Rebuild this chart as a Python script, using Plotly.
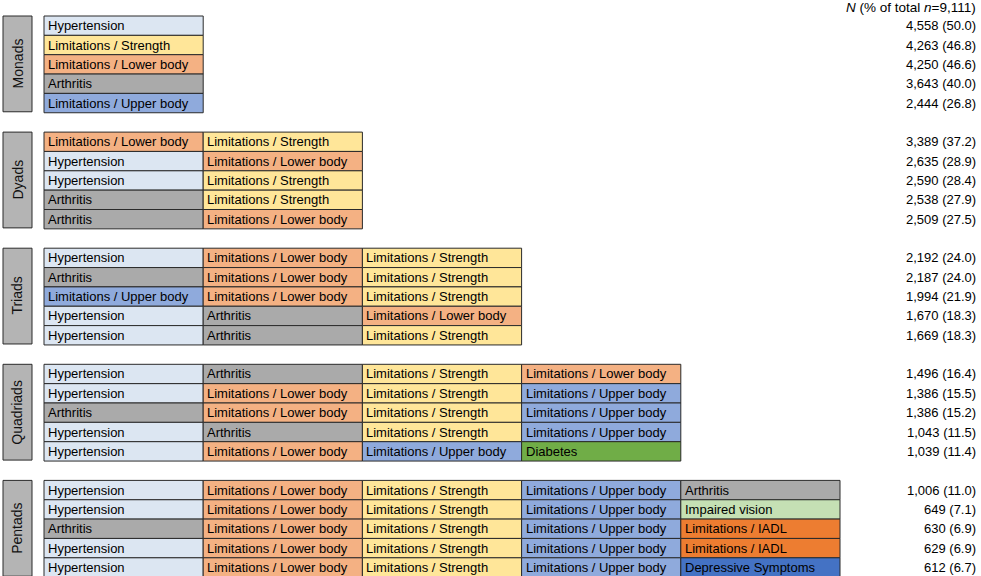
import plotly.graph_objects as go

# ---------------- data ----------------
groups = ["Monads", "Dyads", "Triads", "Quadriads", "Pentads"]

combos = [
    [["Hypertension"],
     ["Limitations / Strength"],
     ["Limitations / Lower body"],
     ["Arthritis"],
     ["Limitations / Upper body"]],
    [["Limitations / Lower body", "Limitations / Strength"],
     ["Hypertension", "Limitations / Lower body"],
     ["Hypertension", "Limitations / Strength"],
     ["Arthritis", "Limitations / Strength"],
     ["Arthritis", "Limitations / Lower body"]],
    [["Hypertension", "Limitations / Lower body", "Limitations / Strength"],
     ["Arthritis", "Limitations / Lower body", "Limitations / Strength"],
     ["Limitations / Upper body", "Limitations / Lower body", "Limitations / Strength"],
     ["Hypertension", "Arthritis", "Limitations / Lower body"],
     ["Hypertension", "Arthritis", "Limitations / Strength"]],
    [["Hypertension", "Arthritis", "Limitations / Strength", "Limitations / Lower body"],
     ["Hypertension", "Limitations / Lower body", "Limitations / Strength", "Limitations / Upper body"],
     ["Arthritis", "Limitations / Lower body", "Limitations / Strength", "Limitations / Upper body"],
     ["Hypertension", "Arthritis", "Limitations / Strength", "Limitations / Upper body"],
     ["Hypertension", "Limitations / Lower body", "Limitations / Upper body", "Diabetes"]],
    [["Hypertension", "Limitations / Lower body", "Limitations / Strength", "Limitations / Upper body", "Arthritis"],
     ["Hypertension", "Limitations / Lower body", "Limitations / Strength", "Limitations / Upper body", "Impaired vision"],
     ["Arthritis", "Limitations / Lower body", "Limitations / Strength", "Limitations / Upper body", "Limitations / IADL"],
     ["Hypertension", "Limitations / Lower body", "Limitations / Strength", "Limitations / Upper body", "Limitations / IADL"],
     ["Hypertension", "Limitations / Lower body", "Limitations / Strength", "Limitations / Upper body", "Depressive Symptoms"]],
]

counts = [
    [4558, 4263, 4250, 3643, 2444],
    [3389, 2635, 2590, 2538, 2509],
    [2192, 2187, 1994, 1670, 1669],
    [1496, 1386, 1386, 1043, 1039],
    [1006, 649, 630, 629, 612],
]

percents = [
    [50.0, 46.8, 46.6, 40.0, 26.8],
    [37.2, 28.9, 28.4, 27.9, 27.5],
    [24.0, 24.0, 21.9, 18.3, 18.3],
    [16.4, 15.5, 15.2, 11.5, 11.4],
    [11.0, 7.1, 6.9, 6.9, 6.7],
]

total_n = "9,111"

# ---------------- style ----------------
colors = {
    "Hypertension": "#dce6f2",
    "Limitations / Strength": "#ffe699",
    "Limitations / Lower body": "#f4b183",
    "Arthritis": "#aaaaaa",
    "Limitations / Upper body": "#8faadc",
    "Diabetes": "#70ad47",
    "Impaired vision": "#c5e0b4",
    "Limitations / IADL": "#ed7d31",
    "Depressive Symptoms": "#4472c4",
}
FONT = "Liberation Sans, Arial, Helvetica, sans-serif"
W, H = 981, 576
COL_PX = 159.2       # pixel width of one column
ROW_PX = 19.35       # pixel height of one row
LEFT_PX = 44.0       # left edge of the first column
TOP_PX = 16.0        # top edge of the first row
ROWS_PER_GROUP = 6   # 5 rows + 1 gap row

x0 = -LEFT_PX / COL_PX
x1 = (W - LEFT_PX) / COL_PX
y_top = -TOP_PX / ROW_PX
y_bot = (H - TOP_PX) / ROW_PX

def px_x(p):
    return (p - LEFT_PX) / COL_PX

def px_y(p):
    return (p - TOP_PX) / ROW_PX

fig = go.Figure()
shapes = []
annotations = []

for g, gname in enumerate(groups):
    base = g * ROWS_PER_GROUP
    nrows = len(combos[g])
    # group label box
    shapes.append(dict(type="rect", xref="x", yref="y",
                       x0=px_x(3), x1=px_x(32), y0=base, y1=base + nrows - 0.05,
                       fillcolor="#b4b4b4", line=dict(color="#2a2a2a", width=1)))
    annotations.append(dict(xref="x", yref="y", x=px_x(17.5), y=base + (nrows - 0.05) / 2,
                            text=gname, showarrow=False, textangle=-90,
                            font=dict(family=FONT, size=14, color="#111111"),
                            xanchor="center", yanchor="middle"))
    for i, combo in enumerate(combos[g]):
        r = base + i
        for c, cond in enumerate(combo):
            shapes.append(dict(type="rect", xref="x", yref="y",
                               x0=c, x1=c + 1, y0=r, y1=r + 1,
                               fillcolor=colors[cond],
                               line=dict(color="#2a2a2a", width=1)))
            annotations.append(dict(xref="x", yref="y", x=c + 2 / COL_PX, y=r + 0.5,
                                    text=cond, showarrow=False,
                                    xanchor="left", yanchor="middle",
                                    font=dict(family=FONT, size=13, color="#000000")))
        annotations.append(dict(xref="x", yref="y", x=px_x(978), y=r + 0.5,
                                text=f"{counts[g][i]:,} ({percents[g][i]:.1f})",
                                showarrow=False, xanchor="right", yanchor="middle",
                                font=dict(family=FONT, size=13, color="#000000")))

annotations.append(dict(xref="x", yref="y", x=px_x(978), y=px_y(7.5),
                        text=f"<i>N</i> (% of total <i>n</i>={total_n})",
                        showarrow=False, xanchor="right", yanchor="middle",
                        font=dict(family=FONT, size=13.5, color="#000000")))

# invisible trace to anchor axes
fig.add_trace(go.Scatter(x=[x0, x1], y=[y_top, y_bot], mode="markers",
                         marker=dict(opacity=0), hoverinfo="skip", showlegend=False))

fig.update_layout(
    width=W, height=H,
    margin=dict(l=0, r=0, t=0, b=0),
    paper_bgcolor="white", plot_bgcolor="white",
    shapes=shapes, annotations=annotations,
    xaxis=dict(range=[x0, x1], visible=False, fixedrange=True),
    yaxis=dict(range=[y_bot, y_top], visible=False, fixedrange=True),
    showlegend=False,
)

fig.write_html("out.html", config={"displayModeBar": False},
               post_script="document.body.style.margin='0';document.body.style.overflow='hidden';")
